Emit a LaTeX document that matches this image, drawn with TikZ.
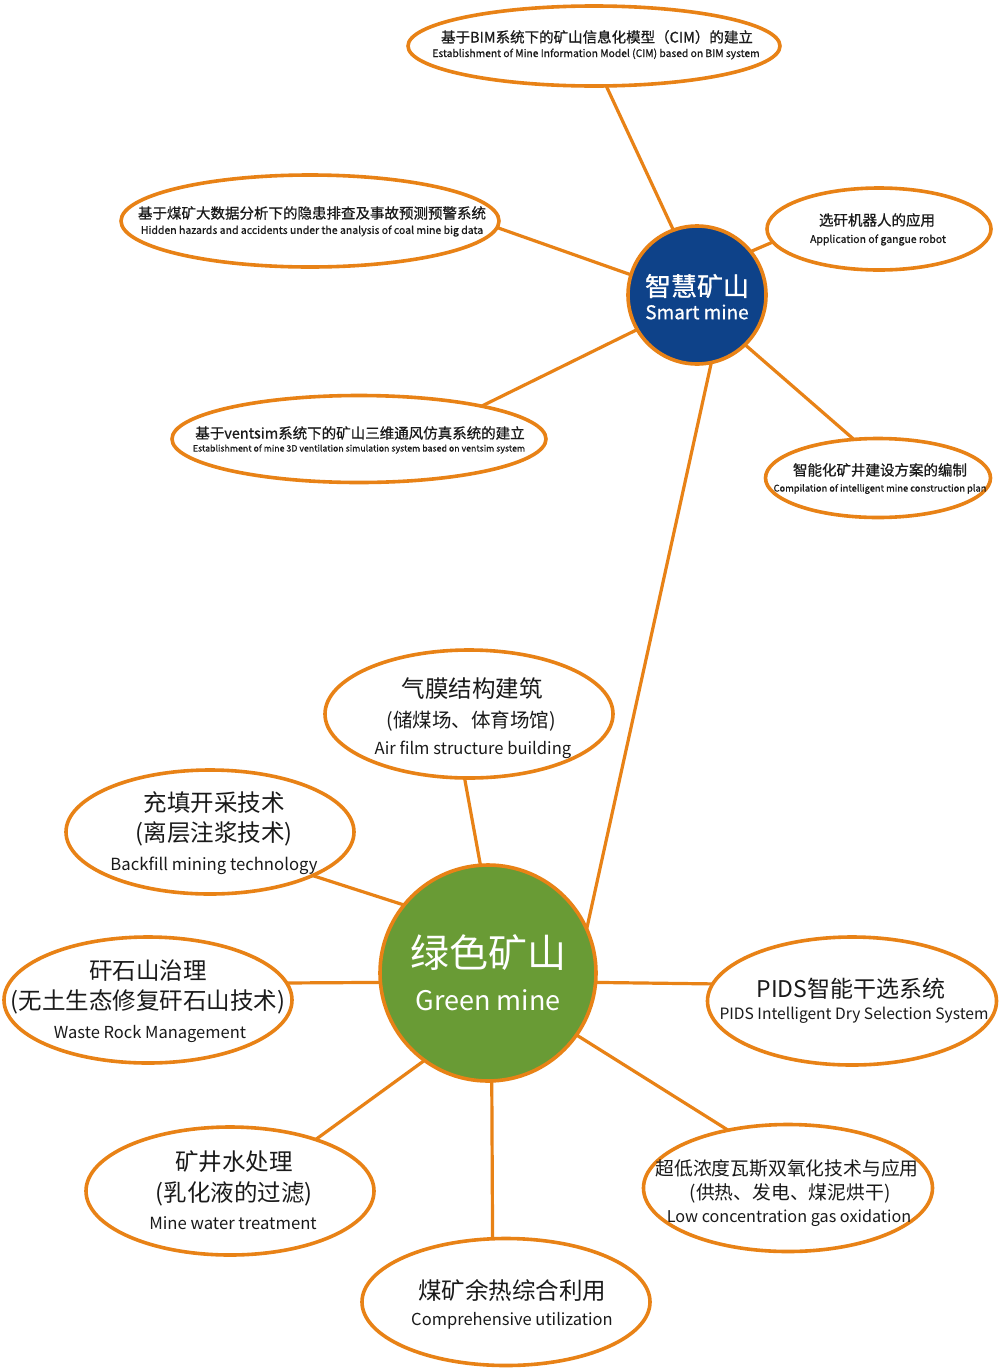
\documentclass[tikz,border=0pt]{standalone}
\usepackage{fontspec}
\setmainfont{Noto Sans CJK SC}
\newfontfamily\medfont[FakeBold=0.8]{Noto Sans CJK SC}
\usetikzlibrary{shapes.geometric}
\definecolor{org}{HTML}{E88216}
\definecolor{smblue}{HTML}{0E4289}
\definecolor{gmgreen}{HTML}{699B35}
\definecolor{ink}{HTML}{1A1A1A}
\newcommand\myfs[1]{\fontsize{#1}{#1}\selectfont}
\begin{document}
\begin{tikzpicture}[x=1pt,y=-1pt,
  bub/.style={ellipse,draw=org,line width=3.6pt,fill=white,inner sep=0pt,outer sep=0pt},
  hub/.style={circle,draw=org,line width=3.6pt,inner sep=0pt,outer sep=0pt},
  link/.style={draw=org,line width=3.2pt},
  txt/.style={inner sep=0pt,outer sep=0pt,text=ink,anchor=center},
  wtxt/.style={inner sep=0pt,outer sep=0pt,text=white,anchor=center}]
\fill[white] (0,0) rectangle (1000,1371);
\useasboundingbox (0,0) rectangle (1000,1371);

% hubs
\node[hub,fill=smblue,minimum size=138pt] (smart) at (697,295) {};
\node[hub,fill=gmgreen,minimum size=216pt] (green) at (488,973) {};

% smart mine bubbles
\node[bub,minimum width=372pt,minimum height=80pt] (bim) at (594,46) {};
\node[bub,minimum width=378pt,minimum height=92pt] (hid) at (310,221) {};
\node[bub,minimum width=224pt,minimum height=82pt] (gang) at (879,229) {};
\node[bub,minimum width=374pt,minimum height=87pt] (vent) at (359,439) {};
\node[bub,minimum width=225pt,minimum height=79pt] (comp) at (878,478) {};

% green mine bubbles
\node[bub,minimum width=288pt,minimum height=128pt] (air) at (469,714) {};
\node[bub,minimum width=288pt,minimum height=124pt] (back) at (210,832) {};
\node[bub,minimum width=288pt,minimum height=126pt] (waste) at (148,1000) {};
\node[bub,minimum width=289pt,minimum height=128pt] (pids) at (852,1001) {};
\node[bub,minimum width=289pt,minimum height=127pt] (gas) at (788,1188) {};
\node[bub,minimum width=288pt,minimum height=128pt] (water) at (230,1191) {};
\node[bub,minimum width=288pt,minimum height=127pt] (heat) at (506,1302) {};

% connectors
\draw[link] (bim.-73) -- (smart.110);
\draw[link] (hid.-2) -- (smart.163);
\draw[link] (gang.187) -- (smart.39);
\draw[link] (vent.15.5) -- (smart.210);
\draw[link] (smart.-46) -- (comp.122);
\draw[link] (smart.-78) -- (green.24);
\draw[link] (air.-94) -- (green.94);
\draw[link] (back.-23.5) -- (green.141);
\draw[link] (waste.7) -- (green.185);
\draw[link] (green.-5) -- (pids.173);
\draw[link] (green.-35) -- (gas.136);
\draw[link] (green.-88) -- (heat.102);
\draw[link] (green.234) -- (water.31);

% hub texts
\node[wtxt] (smartA) at (697,286) {\medfont\myfs{26}智慧矿山};
\node[wtxt] (smartB) at (697,312) {\medfont\myfs{19}Smart mine};
\node[wtxt] (greenA) at (488,953) {\myfs{39}绿色矿山};
\node[wtxt] (greenB) at (488,1000) {\myfs{27}Green mine};

% smart mine texts
\node[txt] (bimA) at (597,37) {\medfont\myfs{14.5}基于BIM系统下的矿山信息化模型（CIM）的建立};
\node[txt] (bimB) at (596,54) {\medfont\myfs{10.3}Establishment of Mine Information Model (CIM) based on BIM system};
\node[txt] (hidA) at (312,213) {\medfont\myfs{14.5}基于煤矿大数据分析下的隐患排查及事故预测预警系统};
\node[txt] (hidB) at (312,231) {\medfont\myfs{10.5}Hidden hazards and accidents under the analysis of coal mine big data};
\node[txt] (gangA) at (877,220) {\medfont\myfs{14.5}选矸机器人的应用};
\node[txt] (gangB) at (878,240) {\medfont\myfs{10.5}Application of gangue robot};
\node[txt] (ventA) at (360,433) {\medfont\myfs{14.5}基于ventsim系统下的矿山三维通风仿真系统的建立};
\node[txt] (ventB) at (359,449) {\medfont\myfs{8.8}Establishment of mine 3D ventilation simulation system based on ventsim system};
\node[txt] (compA) at (880,470) {\medfont\myfs{14.5}智能化矿井建设方案的编制};
\node[txt] (compB) at (880,489) {\medfont\myfs{9.3}Compilation of intelligent mine construction plan};

% green mine texts
\node[txt] (airA) at (472,689) {\myfs{23.5}气膜结构建筑};
\node[txt] (airB) at (471,721) {\myfs{19.5}(储煤场、体育场馆)};
\node[txt] (airC) at (473,750) {\myfs{16.6}Air film structure building};
\node[txt] (backA) at (214,803) {\myfs{23.5}充填开采技术};
\node[txt] (backB) at (214,834) {\myfs{23.5}(离层注浆技术)};
\node[txt] (backC) at (214,866) {\myfs{16.7}Backfill mining technology};
\node[txt] (wasteA) at (148,971) {\myfs{23.5}矸石山治理};
\node[txt] (wasteB) at (148,1002) {\myfs{23.5}(无土生态修复矸石山技术)};
\node[txt] (wasteC) at (150,1034) {\myfs{16.5}Waste Rock Management};
\node[txt] (pidsA) at (851,989) {\myfs{23}PIDS智能干选系统};
\node[txt] (pidsB) at (854,1015) {\myfs{15.6}PIDS Intelligent Dry Selection System};
\node[txt] (gasA) at (787,1168) {\myfs{18.8}超低浓度瓦斯双氧化技术与应用};
\node[txt] (gasB) at (790,1193) {\myfs{18.8}(供热、发电、煤泥烘干)};
\node[txt] (gasC) at (789,1218) {\myfs{16.2}Low concentration gas oxidation};
\node[txt] (waterA) at (234,1162) {\myfs{23.5}矿井水处理};
\node[txt] (waterB) at (234,1194) {\myfs{23.5}(乳化液的过滤)};
\node[txt] (waterC) at (233,1223) {\myfs{16.7}Mine water treatment};
\node[txt] (heatA) at (512,1290) {\myfs{23.5}煤矿余热综合利用};
\node[txt] (heatB) at (512,1321) {\myfs{16.5}Comprehensive utilization};
\end{tikzpicture}
\end{document}
